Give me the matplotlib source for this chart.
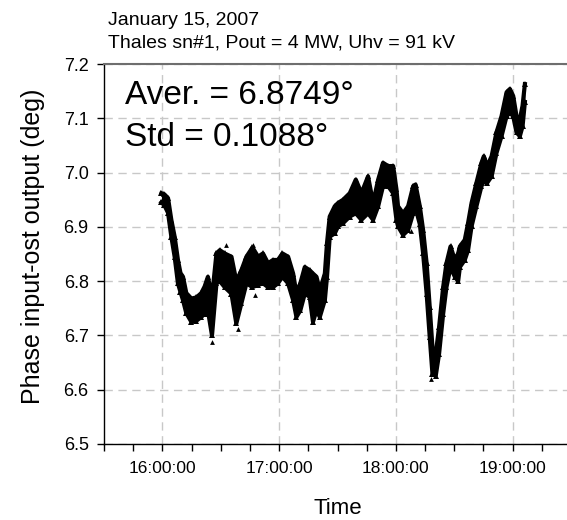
import pandas as pd
import matplotlib
matplotlib.use("Agg")
import matplotlib.pyplot as plt
import matplotlib.dates as mdates

# ===================== data =====================
# minutes after 16:00, upper / lower edge of the measured phase band (deg)
minutes = [-0.5, 1.0, 2.9, 4.6, 6.3, 8.0, 9.3, 10.6, 12.3, 14.9, 17.5, 20.0,
           21.7, 23.4, 25.5, 27.8, 29.5, 32.0, 35.5, 38.0, 40.6, 43.2, 46.3,
           49.2, 51.7, 54.3, 56.9, 59.4, 61.7, 64.6, 67.2, 68.9, 70.9, 73.2,
           75.7, 77.4, 79.2, 80.9, 83.5, 84.6, 86.0, 88.6, 90.3, 92.9, 96.3,
           99.4, 102.3, 105.7, 108.3, 110.9, 113.4, 116.0, 118.6, 120.3, 121.1,
           123.7, 126.3, 128.9, 130.1, 132.3, 134.0, 135.8, 137.4, 138.8, 140.5,
           142.2, 144.3, 146.0, 148.1, 150.3, 152.0, 152.9, 155.4, 157.1, 158.9,
           161.4, 164.0, 165.2, 166.9, 169.2, 171.7, 174.3, 176.9, 178.6, 180.3,
           182.0, 183.7, 185.1, 186.3]
phase_hi = [6.962, 6.960, 6.953, 6.913, 6.882, 6.839, 6.815, 6.808, 6.778, 6.768,
            6.770, 6.778, 6.790, 6.808, 6.771, 6.851, 6.857, 6.851, 6.845, 6.800,
            6.820, 6.845, 6.862, 6.845, 6.851, 6.833, 6.839, 6.839, 6.851, 6.845,
            6.814, 6.777, 6.796, 6.826, 6.820, 6.814, 6.808, 6.783, 6.814, 6.870,
            6.919, 6.938, 6.944, 6.950, 6.962, 6.987, 6.962, 6.993, 6.944, 6.987,
            7.018, 7.012, 7.012, 6.969, 6.938, 6.925, 6.938, 6.975, 6.978, 6.938,
            6.894, 6.833, 6.752, 6.678, 6.666, 6.715, 6.789, 6.833, 6.864, 6.839,
            6.851, 6.864, 6.876, 6.907, 6.944, 6.981, 7.018, 7.030, 7.012, 7.030,
            7.074, 7.104, 7.148, 7.154, 7.141, 7.104, 7.098, 7.123, 7.163]
phase_lo = [6.945, 6.940, 6.926, 6.882, 6.845, 6.796, 6.780, 6.765, 6.741, 6.725,
            6.727, 6.734, 6.740, 6.746, 6.700, 6.796, 6.800, 6.789, 6.777, 6.722,
            6.759, 6.796, 6.789, 6.793, 6.796, 6.789, 6.789, 6.796, 6.808, 6.796,
            6.765, 6.734, 6.746, 6.777, 6.771, 6.725, 6.746, 6.734, 6.765, 6.808,
            6.882, 6.888, 6.901, 6.907, 6.919, 6.925, 6.913, 6.925, 6.913, 6.938,
            6.975, 6.975, 6.962, 6.913, 6.901, 6.885, 6.894, 6.925, 6.935, 6.905,
            6.851, 6.777, 6.697, 6.629, 6.626, 6.666, 6.740, 6.789, 6.826, 6.808,
            6.800, 6.826, 6.839, 6.857, 6.901, 6.938, 6.975, 6.985, 6.981, 6.993,
            7.036, 7.067, 7.104, 7.110, 7.104, 7.074, 7.067, 7.085, 7.130]

# isolated samples outside the band
spike_minutes = [25.5, 29.1, 32.5, 38.7, 46.6, 47.5, 128.0, 138.3]
spike_values = [6.688, 6.854, 6.867, 6.711, 6.866, 6.774, 6.893, 6.620]

aver = 6.8749
std = 0.1088

start = pd.Timestamp("2007-01-15 16:00:00")
t = start + pd.to_timedelta(minutes, unit="min")
t_spike = start + pd.to_timedelta(spike_minutes, unit="min")

# ===================== figure =====================
plt.rcParams["font.family"] = ["Liberation Sans", "DejaVu Sans"]

fig = plt.figure(figsize=(5.67, 5.20), dpi=100)
ax = fig.add_axes([104 / 567, 76 / 520, 467 / 567, 380 / 520])

# measured band: filled between edges, edges drawn as thick triangle-marked lines
ax.fill_between(t, phase_lo, phase_hi, color="black", linewidth=0, zorder=3)
for edge in (phase_hi, phase_lo):
    ax.plot(t, edge, color="black", linewidth=3.0, marker="^", markersize=4,
            markeredgewidth=0, zorder=3)
ax.scatter(t_spike, spike_values, marker="^", s=12, color="black", linewidths=0, zorder=3)

ax.set_xlim(pd.Timestamp("2007-01-15 15:30:00"), pd.Timestamp("2007-01-15 19:30:00"))
ax.set_ylim(6.5, 7.2)
ax.set_yticks([6.5, 6.6, 6.7, 6.8, 6.9, 7.0, 7.1, 7.2])
ax.yaxis.set_major_formatter(matplotlib.ticker.FormatStrFormatter("%.1f"))
ax.xaxis.set_major_locator(mdates.HourLocator())
ax.xaxis.set_minor_locator(mdates.MinuteLocator(byminute=[0, 15, 30, 45]))
ax.xaxis.set_major_formatter(mdates.DateFormatter("%H:%M:%S"))

ax.grid(True, which="major", color="#c8c8c8", linestyle=(0, (6, 4)), linewidth=1.0, zorder=0)
ax.tick_params(axis="both", which="both", direction="out", length=5, width=1, color="black")
ax.tick_params(axis="x", labelsize=12.5, pad=7)
ax.tick_params(axis="y", labelsize=13, pad=6)

ax.spines["right"].set_visible(False)
ax.spines["top"].set_color("#6e6e6e")
ax.spines["top"].set_linewidth(1.5)
ax.spines["left"].set_linewidth(1.0)
ax.spines["bottom"].set_linewidth(1.0)

ax.set_xlabel("Time", fontsize=16)
ax.set_ylabel("Phase input-ost output (deg)", fontsize=18)
ax.xaxis.set_label_coords(0.501, -0.142)
ax.yaxis.set_label_coords(-0.126, 0.519)

fig.text(108 / 567, 1 - 25 / 520, "January 15, 2007", fontsize=14, va="baseline")
fig.text(108 / 567, 1 - 47 / 520, "Thales sn#1, Pout = 4 MW, Uhv = 91 kV", fontsize=14, va="baseline")

fig.text(125 / 567, 1 - 104 / 520, f"Aver. = {aver:.4f}°", fontsize=24, va="baseline")
fig.text(125 / 567, 1 - 146 / 520, f"Std = {std:.4f}°", fontsize=24, va="baseline")

plt.savefig("out.png", dpi=100)
